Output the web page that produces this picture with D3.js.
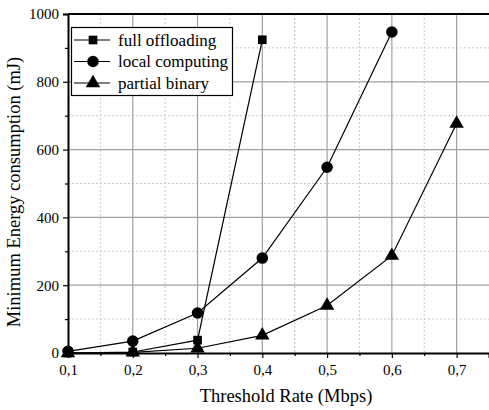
<!DOCTYPE html>
<html>
<head>
<meta charset="utf-8">
<script src="https://cdn.jsdelivr.net/npm/d3@7"></script>
<style>
  body { margin: 0; background: #fff; }
</style>
</head>
<body>
<svg id="chart" width="489" height="410"></svg>
<script>
var rates = [0.1, 0.2, 0.3, 0.4, 0.5, 0.6, 0.7];
var fullOffloading = [0, 3, 38, 924];
var localComputing = [5, 35, 118, 280, 548, 947];
var partialBinary = [0, 2, 14, 52, 140, 287, 677];
var xTicks = [0.1, 0.2, 0.3, 0.4, 0.5, 0.6, 0.7];
var yTicks = [0, 200, 400, 600, 800, 1000];

var serif = "'Liberation Serif', 'DejaVu Serif', serif";

var series = [
  { name: 'full offloading', values: fullOffloading, symbol: d3.symbolSquare, size: 75 },
  { name: 'local computing', values: localComputing, symbol: d3.symbolCircle, size: 105 },
  { name: 'partial binary', values: partialBinary, symbol: d3.symbolTriangle, size: 90 }
];

var plotLeft = 68, plotRight = 489, plotTop = 14, plotBottom = 353;
var svg = d3.select('#chart');

var x = d3.scaleLinear().domain([0.1, 0.75]).range([plotLeft, plotRight]);
var y = d3.scaleLinear().domain([0, 1000]).range([plotBottom, plotTop]);

var xMinor = [0.15, 0.25, 0.35, 0.45, 0.55, 0.65];
var yMinor = [100, 300, 500, 700, 900];

function gridLines(g, data, vertical, major) {
  g.selectAll(null)
    .data(data)
    .enter().append('line')
    .attr('x1', vertical ? x : plotLeft).attr('x2', vertical ? x : plotRight)
    .attr('y1', vertical ? plotTop : y).attr('y2', vertical ? plotBottom : y)
    .attr('stroke', major ? '#a0a0a0' : '#c8c8c8')
    .attr('stroke-width', major ? 1.2 : 1)
    .attr('stroke-dasharray', major ? null : '2,2');
}
var grid = svg.append('g');
gridLines(grid, xMinor, true, false);
gridLines(grid, yMinor, false, false);
gridLines(grid, xTicks.slice(1), true, true);
gridLines(grid, yTicks.slice(1, -1), false, true);

// axes
var fmt = function (d) { return d3.format('.1f')(d).replace('.', ','); };
var xAxis = svg.append('g')
  .attr('transform', 'translate(0,' + plotBottom + ')')
  .call(d3.axisBottom(x).tickValues(xTicks).tickFormat(fmt).tickSize(5).tickPadding(6));
svg.append('g')
  .attr('transform', 'translate(0,' + plotBottom + ')')
  .call(d3.axisBottom(x).tickValues(xMinor).tickFormat('').tickSize(3))
  .select('.domain').remove();
var yAxis = svg.append('g')
  .attr('transform', 'translate(' + plotLeft + ',0)')
  .call(d3.axisLeft(y).tickValues(yTicks).tickFormat(d3.format('d')).tickSize(5).tickPadding(4));
svg.append('g')
  .attr('transform', 'translate(' + plotLeft + ',0)')
  .call(d3.axisLeft(y).tickValues(yMinor).tickFormat('').tickSize(3))
  .select('.domain').remove();

svg.selectAll('.tick line').attr('stroke', '#000').attr('stroke-width', 1.2);
[xAxis, yAxis].forEach(function (a) {
  a.attr('font-family', serif);
  a.select('.domain').attr('stroke', '#000').attr('stroke-width', 2);
  a.selectAll('text').attr('font-size', 15).attr('fill', '#000').attr('font-family', serif);
});
svg.append('line')
  .attr('x1', plotLeft).attr('x2', plotRight).attr('y1', plotTop).attr('y2', plotTop)
  .attr('stroke', '#000').attr('stroke-width', 2);

// lines and markers
var line = d3.line()
  .x(function (d, i) { return x(rates[i]); })
  .y(function (d) { return y(d); });

series.forEach(function (s) {
  svg.append('path')
    .datum(s.values)
    .attr('d', line)
    .attr('fill', 'none')
    .attr('stroke', '#000')
    .attr('stroke-width', 1.2);
});
series.forEach(function (s) {
  svg.selectAll(null)
    .data(s.values)
    .enter().append('path')
    .attr('d', d3.symbol().type(s.symbol).size(s.size))
    .attr('transform', function (d, i) { return 'translate(' + x(rates[i]) + ',' + y(d) + ')'; })
    .attr('fill', '#000');
});

// legend
var legend = svg.append('g');
legend.append('rect')
  .attr('x', 71.5).attr('y', 27.5).attr('width', 161).attr('height', 68)
  .attr('fill', '#fff').attr('stroke', '#000').attr('stroke-width', 1.2);
var items = legend.selectAll('.item')
  .data(series)
  .enter().append('g')
  .attr('transform', function (d, i) { return 'translate(0,' + (40 + i * 21.5) + ')'; });
items.append('line')
  .attr('x1', 74).attr('x2', 110).attr('y1', 0).attr('y2', 0)
  .attr('stroke', '#000').attr('stroke-width', 1.2);
items.append('path')
  .attr('d', function (d) { return d3.symbol().type(d.symbol).size(d.size)(); })
  .attr('transform', 'translate(93,0)');
items.append('text')
  .attr('x', 118).attr('y', 5.5)
  .attr('font-size', 17)
  .attr('font-family', serif)
  .text(function (d) { return d.name; });

// axis titles
svg.append('text')
  .attr('x', 286).attr('y', 402)
  .attr('text-anchor', 'middle')
  .attr('font-size', 18.5)
  .attr('font-family', serif)
  .text('Threshold Rate (Mbps)');
svg.append('text')
  .attr('transform', 'translate(20,192) rotate(-90)')
  .attr('text-anchor', 'middle')
  .attr('font-size', 18.5)
  .attr('font-family', serif)
  .text('Minimum Energy consumption (mJ)');
</script>
</body>
</html>
